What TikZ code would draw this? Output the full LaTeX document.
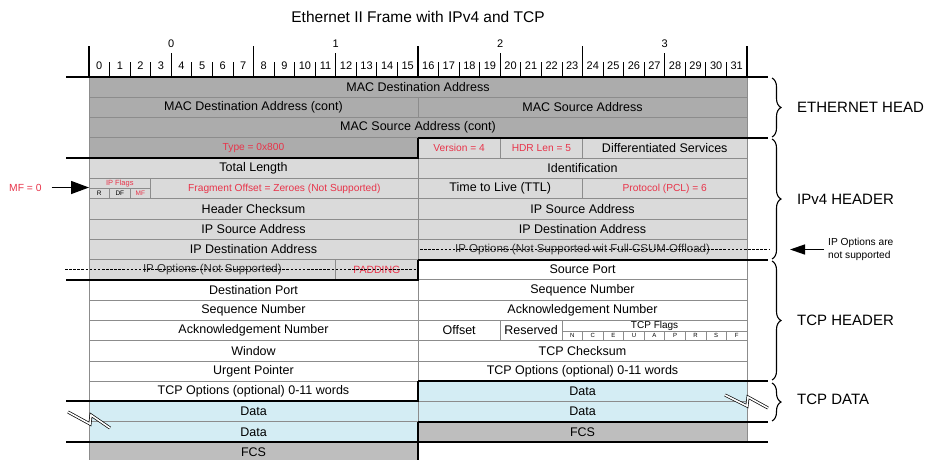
\documentclass[tikz,border=0pt]{standalone}
\usepackage{fontspec}
\setmainfont{Liberation Sans}
\usetikzlibrary{arrows.meta,decorations.pathreplacing}

\definecolor{ethgray}{RGB}{172,172,172}
\definecolor{ipgray}{RGB}{218,218,218}
\definecolor{datablue}{RGB}{212,237,244}
\definecolor{fcsgray}{RGB}{190,190,190}
\definecolor{redtxt}{RGB}{232,52,74}
\definecolor{gridln}{RGB}{140,140,140}
\definecolor{striketxt}{RGB}{50,50,50}

\newcommand\fsz[1]{\fontsize{#1}{#1}\selectfont}

% one header field: name, first bit, last bit (exclusive), row, style, text
\newcommand\fld[6]{%
  \pgfmathsetmacro\fldw{(#3-#2)*20.5625}%
  \pgfmathsetmacro\fldx{89+(#2+#3)/2*20.5625}%
  \pgfmathsetmacro\fldy{77+(#4+0.5)*20.28}%
  \node[#5, minimum width=\fldw pt, minimum height=20.28pt] (#1) at (\fldx,\fldy) {#6};}

% one small flag box: name, x centre, y centre, height, style, text
\newcommand\flagbox[6]{%
  \node[#5, minimum width=20.5625pt, minimum height=#4pt] (#1) at (#2,#3) {#6};}

\tikzset{
  cell/.style={draw=gridln, line width=0.8pt, inner sep=0pt, outer sep=0pt, font=\fsz{12.5}},
  eth/.style={cell, fill=ethgray},
  ip/.style={cell, fill=ipgray},
  tcp/.style={cell, fill=white},
  dat/.style={cell, fill=datablue},
  fcs/.style={cell, fill=fcsgray},
  redsm/.style={text=redtxt, font=\fsz{10.2}},
  struck/.style={text=striketxt, font=\fsz{11.5}},
  tinybox/.style={draw=gridln, line width=0.6pt, inner sep=0pt, outer sep=0pt, font=\fsz{6.5}},
  frameline/.style={line width=2pt, black},
  strikeline/.style={line width=1.4pt, black, dash pattern=on 2.6pt off 1.5pt},
  bytetick/.style={line width=1.2pt, black},
  bittick/.style={line width=0.8pt, black},
  secbrace/.style={decorate, decoration={brace, amplitude=9pt}, line width=1.1pt, black},
  seclabel/.style={anchor=west, inner sep=0pt, font=\fsz{15}},
  bigarrow/.style={line width=1.4pt, -{Triangle[length=18pt, width=13pt]}},
  notearrow/.style={line width=1.4pt, -{Triangle[length=15pt, width=10pt]}},
  breakmark/.style={line width=0.7pt, black, double=white, double distance=1.6pt, line join=miter}
}

\begin{document}
\begin{tikzpicture}[x=1pt, y=-1pt]
\useasboundingbox (0,0) rectangle (928,459);
\fill[white] (0,0) rectangle (928,459);

% title
\node[font=\fsz{15.5}] (title) at (418,17) {Ethernet II Frame with IPv4 and TCP};

% bit ruler
\foreach \b in {0,...,3}{
  \node[font=\fsz{11}, inner sep=0pt] (byte\b) at ({89+(\b*8+4)*20.5625},44) {\b};
}
\foreach \k in {0,...,31}{
  \node[font=\fsz{11}, inner sep=0pt] (bit\k) at ({89+(\k+0.5)*20.5625},66) {\k};
}
\foreach \k in {0,...,32}{
  \pgfmathtruncatemacro\km{mod(\k,8)}
  \ifnum\km=0
    \draw[bytetick] ({89+\k*20.5625},46) -- ({89+\k*20.5625},77);
  \else\ifnum\km=4
    \draw[bytetick] ({89+\k*20.5625},53) -- ({89+\k*20.5625},77);
  \else
    \draw[bittick] ({89+\k*20.5625},62) -- ({89+\k*20.5625},77);
  \fi\fi
}

% Ethernet header
\fld{macdst}{0}{32}{0}{eth}{MAC Destination Address}
\fld{macdstc}{0}{16}{1}{eth}{MAC Destination Address (cont)}
\fld{macsrc}{16}{32}{1}{eth}{MAC Source Address}
\fld{macsrcc}{0}{32}{2}{eth}{MAC Source Address (cont)}
\fld{etype}{0}{16}{3}{eth, redsm}{Type = 0x800}

% IPv4 header
\fld{ver}{16}{20}{3}{ip, redsm}{Version = 4}
\fld{hlen}{20}{24}{3}{ip, redsm}{HDR Len = 5}
\fld{dsrv}{24}{32}{3}{ip}{Differentiated Services}
\fld{totlen}{0}{16}{4}{ip}{Total Length}
\fld{ident}{16}{32}{4}{ip}{Identification}
\fld{flg}{0}{3}{5}{ip}{}
\fld{frag}{3}{16}{5}{ip, redsm}{Fragment Offset = Zeroes (Not Supported)}
\fld{ttl}{16}{24}{5}{ip}{Time to Live (TTL)}
\fld{proto}{24}{32}{5}{ip, redsm}{Protocol (PCL) = 6}
\fld{hcsum}{0}{16}{6}{ip}{Header Checksum}
\fld{srcipa}{16}{32}{6}{ip}{IP Source Address}
\fld{srcipb}{0}{16}{7}{ip}{IP Source Address}
\fld{dstipa}{16}{32}{7}{ip}{IP Destination Address}
\fld{dstipb}{0}{16}{8}{ip}{IP Destination Address}
\fld{optsa}{16}{32}{8}{ip, struck}{IP Options (Not Supported wit Full CSUM Offload)}
\fld{optsb}{0}{12}{9}{ip, struck}{IP Options (Not Supported)}
\fld{pad}{12}{16}{9}{ip, redsm, font=\fsz{10.5}}{PADDING}

% IP flag bits
\node[text=redtxt, font=\fsz{7.5}, inner sep=0pt] (flglbl) at (119.8,183.6) {IP Flags};
\flagbox{fr}{99.28}{193.6}{10.2}{tinybox, fill=ipgray}{R}
\flagbox{fdf}{119.84}{193.6}{10.2}{tinybox, fill=ipgray}{DF}
\flagbox{fmf}{140.4}{193.6}{10.2}{tinybox, fill=ipgray, text=redtxt}{MF}

% TCP header
\fld{sport}{16}{32}{9}{tcp}{Source Port}
\fld{dport}{0}{16}{10}{tcp}{Destination Port}
\fld{seqa}{16}{32}{10}{tcp}{Sequence Number}
\fld{seqb}{0}{16}{11}{tcp}{Sequence Number}
\fld{acka}{16}{32}{11}{tcp}{Acknowledgement Number}
\fld{ackb}{0}{16}{12}{tcp}{Acknowledgement Number}
\fld{offs}{16}{20}{12}{tcp}{Offset}
\fld{resv}{20}{23}{12}{tcp}{Reserved}
\fld{tflg}{23}{32}{12}{tcp}{}
\fld{wnd}{0}{16}{13}{tcp}{Window}
\fld{tcsum}{16}{32}{13}{tcp}{TCP Checksum}
\fld{urg}{0}{16}{14}{tcp}{Urgent Pointer}
\fld{topta}{16}{32}{14}{tcp}{TCP Options (optional) 0-11 words}
\fld{toptb}{0}{16}{15}{tcp}{TCP Options (optional) 0-11 words}

% TCP flag bits
\node[font=\fsz{10}, inner sep=0pt] (tflglbl) at (654.6,325.6) {TCP Flags};
\foreach \f [count=\i from 0] in {N,C,E,U,A,P,R,S,F}{
  \pgfmathsetmacro\tfx{89+(23.5+\i)*20.5625}
  \flagbox{tf\f}{\tfx}{335.8}{9.6}{tinybox, font=\fsz{6}}{\f}
}

% TCP data and frame check sequence
\fld{data}{16}{32}{15}{dat}{Data}
\fld{datb}{0}{16}{16}{dat}{Data}
\fld{datc}{16}{32}{16}{dat}{Data}
\fld{datd}{0}{16}{17}{dat}{Data}
\fld{fcsa}{16}{32}{17}{fcs}{FCS}
\fld{fcsb}{0}{16}{18}{fcs}{FCS}

% unsupported option rows are struck through
\draw[strikeline] (420,249.38) -- (770,249.38);
\draw[strikeline] (65,269.66) -- (418,269.66);

% section boundaries
\draw[frameline] (66,77) -- (768,77);
\draw[frameline] (418,137.84) -- (768,137.84);
\draw[frameline] (66,158.12) -- (418,158.12) -- (418,137.84);
\draw[frameline] (418,259.52) -- (768,259.52);
\draw[frameline] (66,279.8) -- (418,279.8) -- (418,259.52);
\draw[frameline] (418,381.2) -- (768,381.2);
\draw[frameline] (66,401.48) -- (418,401.48) -- (418,381.2);
\draw[frameline] (418,421.76) -- (768,421.76);
\draw[frameline] (66,442.04) -- (768,442.04);
\draw[frameline] (418,421.76) -- (418,465);

% section braces
\draw[secbrace] (772,78) -- (772,137);
\node[seclabel] (ethlbl) at (797,107) {ETHERNET HEAD};
\draw[secbrace] (772,139) -- (772,259);
\node[seclabel] (iplbl) at (797,199) {IPv4 HEADER};
\draw[secbrace] (772,261) -- (772,380);
\node[seclabel] (tcplbl) at (797,320) {TCP HEADER};
\draw[secbrace] (772,383) -- (772,421);
\node[seclabel] (datlbl) at (797,399) {TCP DATA};

% annotations
\node[text=redtxt, font=\fsz{10.3}, anchor=west, inner sep=0pt] (mf) at (9,187.5) {MF = 0};
\draw[bigarrow, shorten <=10pt] (mf.east) -- (mf.east -| flg.west);
\node[anchor=west, align=left, inner sep=0pt, font=\fontsize{10.2}{13.4}\selectfont] (note) at (828,249.5) {IP Options are\\not supported};
\coordinate (optip) at (790,249.5);
\draw[notearrow, shorten <=4pt] (note.west) -- (optip);

% stream break marks
\draw[breakmark] (68,412) -- (90,424) -- (91,415) -- (110,428);
\draw[breakmark] (725,395) -- (747,406) -- (748,397) -- (768,408);
\end{tikzpicture}
\end{document}
